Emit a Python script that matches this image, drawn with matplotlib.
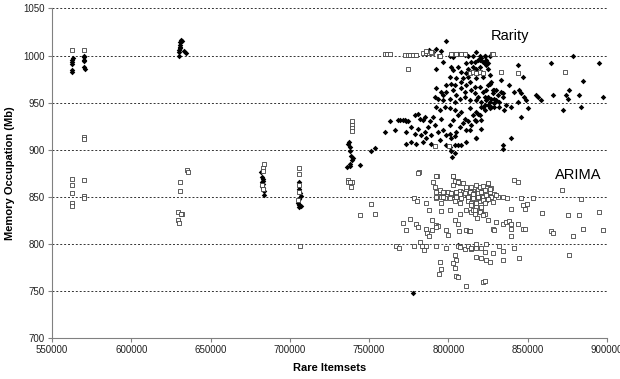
import matplotlib
matplotlib.use("Agg")
import matplotlib.pyplot as plt

# ---------------- data ----------------
x_ticks = [550000, 600000, 650000, 700000, 750000, 800000, 850000, 900000]
y_ticks = [700, 750, 800, 850, 900, 950, 1000, 1050]

rarity_x = [
    # early clusters
    562400, 562400, 562400, 562400, 562800, 563000,
    570000, 570000, 570000, 570000, 570000, 570500,
    630000, 630300, 630500, 630800, 631000, 631500, 632000, 633500, 634500, 630000, 631000,
    682000, 682500, 682800, 683000, 682500, 683000, 682700, 683200, 683500, 684000,
    705500, 706000, 706500, 707000, 705500, 705000, 706000, 705500, 706800,
    736300, 737300, 737700, 738000, 738800, 739000, 738000, 737700, 739800, 744500, 751400, 753500, 736700,
    759790, 762940, 766090, 768190, 771340, 773440,
    # main cloud
    798640, 785620, 787720, 790240, 792340, 795490, 800740, 802840, 805990, 810190, 812290,
    817540, 818590, 816490, 820690, 821740, 822790, 823840, 819640, 817540, 824890, 825940,
    792340, 796540, 801790, 802840, 805990, 808090, 811240, 812290, 814390, 812290, 818590,
    800740, 804940, 809140, 813340, 817540, 821740, 825940,
    792340, 795490, 798640, 801790, 802840, 804940, 808090, 811240, 814390, 816490, 819640,
    821740, 822790, 824890, 826990, 829090, 831190, 833290,
    791290, 793390, 796540, 800740, 803890, 807040, 810190, 813340, 817540, 820690, 823840,
    826990, 830140, 832240, 834340, 836440,
    769240, 772390, 774490, 778690, 780790, 781840, 783940, 784990, 788140, 790240, 792340,
    794440, 797590, 800740, 803890, 805990, 808090, 810190, 813340, 815440, 817540, 820690,
    822790, 824890, 826990, 829090, 832240, 835390,
    773440, 776590, 778690, 780790, 782890, 784990, 787090, 789190, 791290, 793390, 796540,
    798640, 800740, 801790, 803890, 804940, 807040, 809140, 811240, 814390, 817540, 820690,
    776590, 779740, 783940, 786040, 789190, 794440, 811240, 817540, 773440,
    798640, 800740, 803890, 805990, 808090, 801790, 834340, 802420, 803890,
    814390, 815440, 819640, 822790, 823840, 811240, 808090, 803890, 798640, 796540,
    810190, 816490, 818590, 823840, 828040, 830140, 825940, 829090, 822790, 819640,
    816490, 812290, 800740, 802840, 795490,
    # right side
    878440, 895240, 864790, 843790, 846940, 884740, 838540, 833290, 834340, 841690,
    844840, 845890, 847990, 849040, 843790, 850090, 839590, 845890, 858490, 865840,
    874240, 875290, 876340, 872140, 882640, 883690, 897340, 817540, 839590, 834340,
    855240, 856290,
    815440, 819640, 822790, 824890, 825940, 828040, 824890, 829090, 821740, 818590,
    813340, 820690, 825940,
    # outliers
    777640, 805990,
]
rarity_y = [
    995, 993, 991, 985, 983, 997,
    1000, 998, 995, 994, 988, 986,
    1000, 1004, 1008, 1011, 1014, 1017, 1015, 1005, 1003, 1006, 1009,
    876, 871, 869, 867, 865, 863, 861, 859, 856, 852,
    866, 858, 854, 851, 847, 843, 841, 839, 840,
    882, 908, 903, 899, 893, 889, 885, 883, 891, 884, 899, 902, 906,
    919, 930, 921, 931, 931, 930,
    1015, 1002, 1006, 1004, 1007, 1005, 1000, 998, 1002, 1001, 1000,
    1004, 995, 993, 997, 993, 992, 990, 988, 986, 986, 1000,
    986, 993, 988, 985, 988, 983, 992, 986, 983, 977, 981,
    977, 976, 976, 972, 976, 977, 979,
    965, 961, 969, 970, 963, 958, 965, 969, 963, 960, 967,
    961, 956, 969, 972, 963, 958, 961,
    956, 954, 953, 954, 951, 954, 956, 953, 953, 951, 953,
    954, 953, 951, 956, 947,
    931, 931, 930, 937, 938, 933, 931, 935, 930, 935, 945,
    942, 945, 944, 942, 937, 940, 933, 944, 937, 940, 945,
    942, 947, 945, 949, 945, 942,
    919, 924, 917, 922, 915, 919, 924, 915, 926, 919, 921,
    915, 917, 912, 914, 919, 924, 928, 921, 926, 930, 922,
    908, 906, 908, 912, 906, 910, 908, 912, 906,
    905, 903, 905, 905, 905, 898, 905, 892, 896,
    993, 988, 1000, 999, 995, 981, 972, 969, 961, 958,
    961, 967, 956, 963, 960, 963, 951, 945, 947, 937,
    931, 930, 926, 931, 933,
    1000, 992, 992, 990, 977, 973, 969, 974, 960, 961,
    963, 960, 956, 953, 951, 944, 945, 935, 953, 958,
    958, 954, 963, 942, 958, 945, 956, 912, 912, 901,
    958, 956,
    1000, 995, 999, 992, 970, 963, 956, 954, 945, 938,
    921, 931, 944,
    747, 799,
]

arima_x = [
    # early clusters
    562400, 562400, 562400, 562400, 562400, 562400,
    570000, 570300, 570000, 570000, 570000, 570000,
    635000, 635500, 630700, 630700, 629500, 632000, 629500, 630000, 631500,
    683800, 683300, 683000, 682500, 683000,
    706000, 706000, 705800, 705500, 705000, 706200,
    739300, 739500, 739300, 739000, 737000, 739000, 736700, 738200, 738800,
    # top band near 1000
    759790, 761260, 762940, 772390, 774490, 776590, 778690, 774490,
    783940, 785620, 787720, 789820, 794020, 802840, 804940, 808090, 810190, 827620,
    813340, 815440, 817540, 819640, 821740, 833290, 843790, 873820,
    775540, 777640, 779740, 786040, 789190, 794440, 801790, 808090, 828040,
    791290, 800320,
    # main cloud
    781210, 780790, 792760, 802840, 805990, 804520, 802840, 807040, 790240,
    791290, 792340, 794440, 796540, 798640, 800740, 802840, 804940, 807040, 809140,
    811240, 813340, 815440, 817540,
    792340, 795490, 797590, 801790, 804940, 807040, 809140, 812290, 815440, 817540,
    778060, 780160, 751390, 753490, 744460,
    785620, 787720, 795490, 800740, 803890, 807040, 812290, 810820, 814390, 816490,
    795490, 807040,
    771340, 773440, 775960, 779740, 780790, 785620, 786460, 787720, 789820, 791920,
    793390, 798220, 799690, 803890, 805990, 806620, 811240, 812920, 789820, 792340,
    766720, 768820, 778060, 782260, 783520, 784360, 785620, 792340, 798220, 805990,
    807460, 810190, 812290, 814390, 817540,
    794440, 795490, 794020, 803890, 804520, 802840, 803890, 804940, 805990, 811240,
    # right part
    841690, 843790, 871720,
    824890, 826990, 822790, 820690, 818590, 816490, 814390, 821740, 823840, 819640,
    817540, 815440, 820690, 822790, 816490, 825940, 829090, 831190, 834340, 836860,
    814390, 818590, 825940,
    845890, 853240, 846940, 849460, 848620, 839590, 859120, 875290, 882220, 895240,
    883690,
    824890, 830140, 834340, 836440, 838540, 839590, 843790, 846940, 848620, 828040,
    829090, 839590, 813340, 839590,
    864790, 866260, 878440, 884740, 897340,
    817540, 820690, 814390, 823840, 822790, 828040, 831820, 834340, 841690, 844840,
    817540, 820690, 823420, 825940, 834340,
    875920, 821740, 822790,
    # dense core
    792340, 802840, 803890, 805990, 809140, 811240, 814390, 817540, 819640, 821740,
    824890, 825940, 829090, 794440, 796540, 799690, 801790, 804940, 807040, 810190,
    813340, 815440, 818590, 820690, 823840, 826990, 830140, 792340, 796540, 800740,
    804940, 808090, 812290, 815440, 818590, 821740, 824890, 828040,
    814390, 817540, 820690, 822790, 816490, 819640, 821740, 817960,
]
arima_y = [
    1006, 869, 862, 854, 843, 840,
    1006, 913, 911, 868, 851, 849,
    878, 876, 866, 856, 834, 831, 825, 822, 832,
    885, 880, 877, 862, 858,
    880, 874, 862, 855, 846, 798,
    930, 926, 923, 920, 868, 865, 866, 865, 860,
    1002, 1002, 1002, 1001, 1001, 1001, 1001, 986,
    1003, 1003, 1003, 1003, 999, 1002, 1002, 1002, 1002, 1002,
    981, 983, 981, 983, 981, 983, 981, 983,
    1001, 1001, 1001, 1005, 1004, 1000, 1002, 1002, 1002,
    904, 904,
    876, 875, 872, 872, 867, 865, 862, 864, 866,
    860, 855, 855, 854, 855, 854, 853, 855, 856, 855,
    857, 855, 856, 854,
    849, 850, 848, 852, 852, 850, 852, 848, 850, 846,
    848, 845, 842, 832, 830,
    843, 836, 843, 836, 845, 843, 845, 836, 834, 836,
    835, 832,
    822, 815, 826, 821, 818, 816, 811, 808, 825, 820,
    819, 814, 809, 825, 821, 813, 815, 813, 815, 818,
    797, 795, 797, 802, 797, 793, 797, 797, 795, 798,
    796, 794, 797, 794, 795,
    780, 773, 768, 788, 783, 779, 774, 766, 764, 755,
    868, 866, 857,
    863, 859, 857, 855, 857, 853, 855, 850, 846, 845,
    839, 836, 836, 832, 832, 850, 852, 850, 850, 848,
    843, 848, 855,
    849, 848, 841, 842, 837, 837, 833, 830, 830, 834,
    847,
    825, 823, 821, 823, 824, 821, 821, 816, 816, 816,
    814, 816, 813, 808,
    813, 811, 808, 816, 815,
    800, 795, 795, 800, 791, 790, 797, 792, 795, 785,
    786, 785, 783, 780, 783,
    788, 759, 760,
    872, 872, 867, 866, 864, 860, 860, 862, 860, 861,
    864, 858, 853, 857, 855, 855, 854, 855, 853, 854,
    855, 853, 854, 855, 852, 850, 852, 850, 850, 849,
    850, 848, 850, 848, 850, 846, 847, 844,
    841, 843, 839, 843, 836, 834, 830, 827,
]

# ---------------- figure ----------------
plt.rcParams['font.family'] = ['Liberation Sans', 'DejaVu Sans']

fig = plt.figure(figsize=(6.2, 3.79), dpi=100)
ax = fig.add_axes([0.0839, 0.109, 0.895, 0.8686])

ax.scatter(rarity_x, rarity_y, marker='D', s=8, color='black', linewidths=0, zorder=3)
ax.scatter(arima_x, arima_y, marker='s', s=10, facecolors='white',
           edgecolors='#444444', linewidths=0.6, zorder=4)

ax.set_xlim(550000, 900000)
ax.set_ylim(700, 1050)
ax.set_xticks(x_ticks)
ax.set_yticks(y_ticks)
ax.set_xticklabels([str(v) for v in x_ticks])
ax.set_yticklabels([str(v) for v in y_ticks])

for v in y_ticks[1:]:
    ax.axhline(v, color='#333333', linestyle=(0, (2, 2)), linewidth=0.7, zorder=1)

for side in ['top', 'right']:
    ax.spines[side].set_visible(False)
for side in ['left', 'bottom']:
    ax.spines[side].set_color('#808080')
    ax.spines[side].set_linewidth(0.8)

ax.tick_params(axis='both', direction='out', length=3, width=0.8, color='#808080',
               labelsize=7, labelcolor='#222222', pad=2)

ax.set_xlabel('Rare Itemsets', fontsize=8, fontweight='bold', labelpad=6)
ax.set_ylabel('Memory Occupation (Mb)', fontsize=8, fontweight='bold', labelpad=6)

ax.text(827000, 1021, 'Rarity', fontsize=10.5, va='center', ha='left', color='black')
ax.text(867500, 873, 'ARIMA', fontsize=10.5, va='center', ha='left', color='black')

fig.savefig('out.png', dpi=100)
